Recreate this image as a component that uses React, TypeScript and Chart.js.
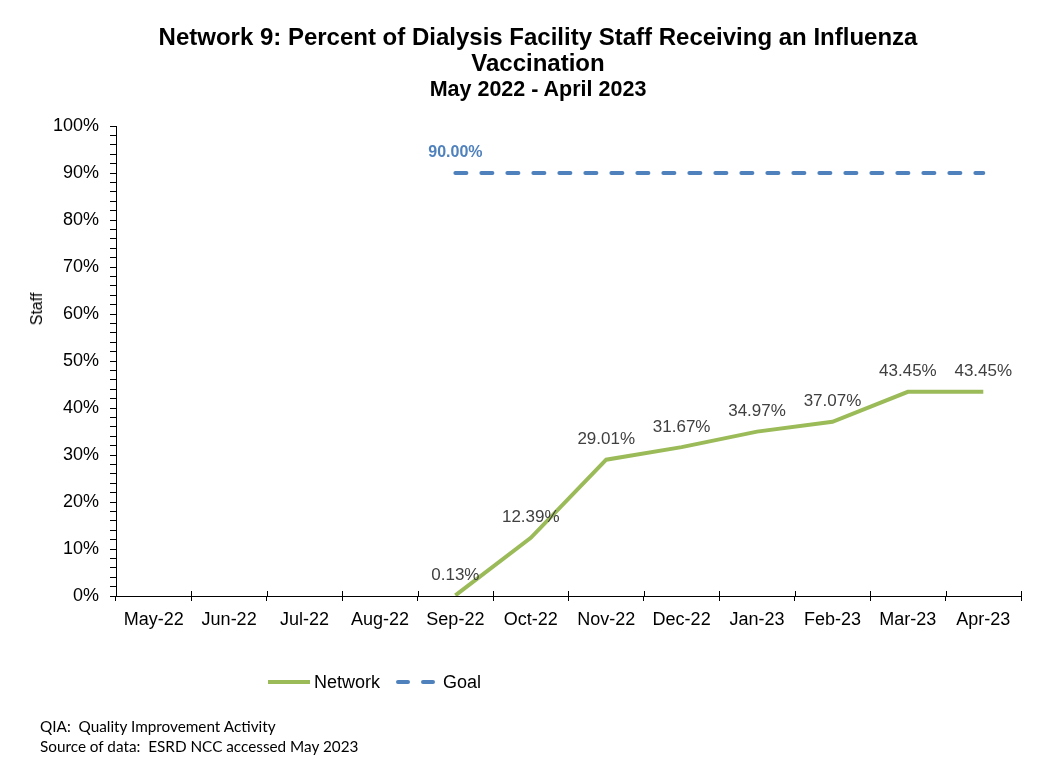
import React, { useEffect, useRef } from "react";
import { Chart, registerables } from "chart.js";

Chart.register(...registerables);

const categories = ["May-22", "Jun-22", "Jul-22", "Aug-22", "Sep-22", "Oct-22", "Nov-22", "Dec-22", "Jan-23", "Feb-23", "Mar-23", "Apr-23"];
const networkValues: (number | null)[] = [null, null, null, null, 0.13, 12.39, 29.01, 31.67, 34.97, 37.07, 43.45, 43.45];
const goalValues: (number | null)[] = [null, null, null, null, 90, 90, 90, 90, 90, 90, 90, 90];
const yTickStep = 2;
const yMajorStep = 10;

const GREEN = "#9BBB59";
const BLUE = "#4F81BD";
const FONT = 'Arial, "Liberation Sans", sans-serif';

const dataLabelPlugin = {
  id: "dataLabels",
  afterDatasetsDraw(chart: any) {
    const ctx = chart.ctx;
    ctx.save();
    ctx.textAlign = "center";
    ctx.textBaseline = "middle";
    chart.data.datasets.forEach((ds: any, i: number) => {
      const meta = chart.getDatasetMeta(i);
      let first = true;
      meta.data.forEach((pt: any, j: number) => {
        const v = ds.data[j];
        if (v === null || v === undefined) return;
        if (ds.labelFirstOnly && !first) return;
        first = false;
        ctx.font = ds.labelFont;
        ctx.fillStyle = ds.labelColor;
        ctx.fillText(v.toFixed(2) + "%", pt.x, pt.y - 20);
      });
    });
    ctx.restore();
  },
};

// draws the part of each x-axis tick mark that crosses above the axis line
const crossTickPlugin = {
  id: "crossTicks",
  afterDraw(chart: any) {
    const xs = chart.scales.x;
    const ctx = chart.ctx;
    const n = chart.data.labels.length;
    if (n < 2) return;
    const half = (xs.getPixelForTick(1) - xs.getPixelForTick(0)) / 2;
    ctx.save();
    ctx.strokeStyle = "#000";
    ctx.lineWidth = 1;
    ctx.beginPath();
    for (let i = 0; i <= n; i++) {
      const x = Math.round(xs.getPixelForTick(Math.min(i, n - 1)) + (i < n ? -half : half)) + 0.5;
      ctx.moveTo(x, xs.top - 5);
      ctx.lineTo(x, xs.top);
    }
    ctx.stroke();
    ctx.restore();
  },
};

export default function App() {
  const ref = useRef<HTMLCanvasElement | null>(null);
  useEffect(() => {
    document.body.style.margin = "0";
    const chart = new Chart(ref.current as HTMLCanvasElement, {
      type: "line",
      data: {
        labels: categories,
        datasets: [
          {
            label: "Network",
            data: networkValues,
            borderColor: GREEN,
            backgroundColor: GREEN,
            borderWidth: 4,
            pointRadius: 0,
            spanGaps: false,
            labelFont: `17px ${FONT}`,
            labelColor: "#404040",
          } as any,
          {
            label: "Goal",
            data: goalValues,
            borderColor: BLUE,
            backgroundColor: BLUE,
            borderWidth: 4,
            borderDash: [11, 15],
            borderCapStyle: "round",
            pointRadius: 0,
            labelFirstOnly: true,
            labelFont: `bold 16px ${FONT}`,
            labelColor: BLUE,
          } as any,
        ],
      },
      options: {
        animation: false,
        responsive: false,
        maintainAspectRatio: false,
        layout: { padding: { top: 126, right: 28, left: 0, bottom: 0 } },
        plugins: {
          legend: { display: false },
          title: { display: false },
          tooltip: { enabled: false },
        },
        scales: {
          x: {
            type: "category",
            offset: true,
            grid: { display: true, offset: true, drawOnChartArea: false, drawTicks: true, tickLength: 5, color: "#000" },
            border: { display: true, color: "#000", width: 1 },
            ticks: { color: "#000", font: { family: FONT, size: 18 }, padding: 8, maxRotation: 0, autoSkip: false },
            afterFit(scale: any) {
              scale.height = 172;
            },
          },
          y: {
            min: 0,
            max: 100,
            grid: { display: true, drawOnChartArea: false, drawTicks: true, tickLength: 6, color: "#000" },
            border: { display: true, color: "#000", width: 1 },
            ticks: {
              stepSize: yTickStep,
              autoSkip: false,
              color: "#000",
              font: { family: FONT, size: 18 },
              padding: 11,
              callback: (v: any) => (Number(v) % yMajorStep === 0 ? `${v}%` : ""),
            },
            afterFit(scale: any) {
              scale.width = 116;
            },
          },
        },
      } as any,
      plugins: [dataLabelPlugin, crossTickPlugin],
    });
    return () => chart.destroy();
  }, []);

  return (
    <div style={{ position: "relative", width: 1049, height: 768, background: "#fff", overflow: "hidden" }}>
      <canvas ref={ref} width={1049} height={768} style={{ position: "absolute", left: 0, top: 0, width: 1049, height: 768 }} />
      <div
        style={{
          position: "absolute",
          left: 138,
          width: 800,
          top: 24,
          textAlign: "center",
          fontFamily: FONT,
          fontWeight: "bold",
          color: "#000",
        }}
      >
        <div style={{ fontSize: 24, lineHeight: "26px" }}>Network 9: Percent of Dialysis Facility Staff Receiving an Influenza</div>
        <div style={{ fontSize: 24, lineHeight: "26px" }}>Vaccination</div>
        <div style={{ fontSize: 21.5, lineHeight: "27px" }}>May 2022 - April 2023</div>
      </div>
      <div
        style={{
          position: "absolute",
          left: 37,
          top: 309,
          transform: "translate(-50%, -50%) rotate(-90deg)",
          fontFamily: FONT,
          fontSize: 16,
          lineHeight: "18px",
          color: "#000",
          whiteSpace: "nowrap",
        }}
      >
        Staff
      </div>
      <div style={{ position: "absolute", left: 268, top: 672, height: 20, display: "flex", alignItems: "center", fontFamily: FONT, fontSize: 18, color: "#000" }}>
        <svg width={44} height={6} style={{ display: "block" }}>
          <line x1={0} y1={3} x2={42} y2={3} stroke={GREEN} strokeWidth={4} />
        </svg>
        <span style={{ marginLeft: 2 }}>Network</span>
        <svg width={44} height={6} style={{ display: "block", marginLeft: 16 }}>
          <line x1={2} y1={3} x2={42} y2={3} stroke={BLUE} strokeWidth={4} strokeDasharray="10 15" strokeLinecap="round" />
        </svg>
        <span style={{ marginLeft: 3 }}>Goal</span>
      </div>
      <div style={{ position: "absolute", left: 40, top: 716, fontFamily: 'Lato, "Open Sans", sans-serif', fontSize: 15.3, lineHeight: "20px", color: "#000", whiteSpace: "pre" }}>
        <div>QIA:  Quality Improvement Activity</div>
        <div>Source of data:  ESRD NCC accessed May 2023</div>
      </div>
    </div>
  );
}
